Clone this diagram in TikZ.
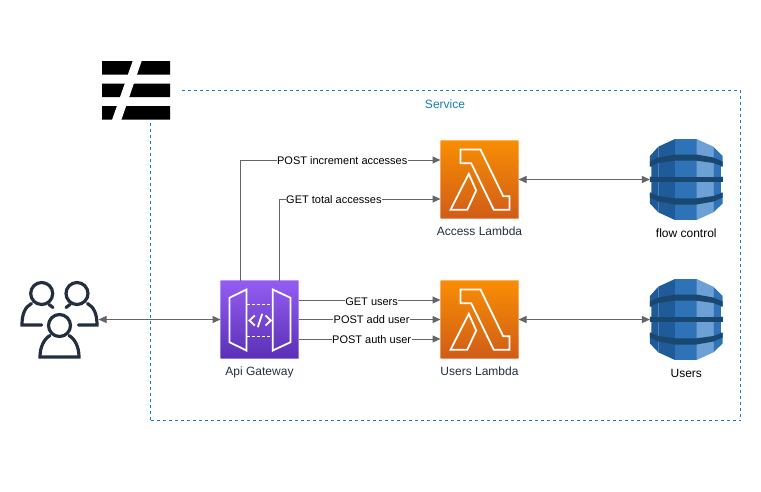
\documentclass[tikz,border=0pt]{standalone}
\usepackage{fontspec}
\setmainfont{Liberation Sans}
\usetikzlibrary{arrows.meta, positioning, calc}
\definecolor{svcblue} {RGB}{20,126,186}
\definecolor{inkdark} {RGB}{35,47,62}
\definecolor{linegray}{RGB}{100,100,105}
\definecolor{lamtop}  {RGB}{247,142,4}
\definecolor{lambot}  {RGB}{208,92,23}
\definecolor{gwtop}   {RGB}{148,93,242}
\definecolor{gwbot}   {RGB}{90,48,181}
\definecolor{dbdark}  {RGB}{26,71,111}
\definecolor{dbdeep}  {RGB}{32,91,153}
\definecolor{dbmid}   {RGB}{46,115,184}
\definecolor{dblight} {RGB}{109,160,212}
\tikzset{
  iconbox/.style={minimum width=78pt, minimum height=78pt, inner sep=0pt, outer sep=0pt,
    draw=white, draw opacity=0.35, line width=1pt},
  lambdabox/.style={iconbox, top color=lamtop, bottom color=lambot},
  gatewaybox/.style={iconbox, top color=gwtop, bottom color=gwbot},
  dbbox/.style={minimum width=72.7pt, minimum height=81pt, inner sep=0pt, outer sep=0pt},
  caption/.style={font=\fontsize{12}{14}\selectfont, text=inkdark, inner sep=0pt},
  flow/.style={draw=linegray, line width=1pt, -{Triangle[length=8pt,width=7pt]}},
  duplex/.style={flow, {Triangle[length=8pt,width=7pt]}-{Triangle[length=8pt,width=7pt]}},
  route/.style={font=\fontsize{11}{13}\selectfont, fill=white, inner xsep=0.5pt, inner ysep=0.5pt,
    text=black, yshift=-0.5pt},
  glyph/.style={draw=white, line width=1.8pt, line join=miter},
  person/.style={draw=inkdark, line width=3.2pt, line cap=round}
}
\newcommand{\lambdaglyph}[1]{
  \begin{scope}[shift={(#1.north west)}]
    \draw[glyph] (20,9) -- (40,9) -- (62.7,55.7) -- (69,55.7) -- (69,69.3) -- (53.3,69.3)
      -- (30.7,22.7) -- (20,22.7) -- cycle;
    \draw[glyph] (28.3,33.3) -- (35.7,50) -- (26.7,69.3) -- (10,69.3) -- cycle;
  \end{scope}
}
\newcommand{\dbglyph}[1]{
  \begin{scope}[shift={(#1.north west)}]
    \fill[dbmid] (25,0) -- (46.7,0) -- (46.7,81) -- (25,81) -- cycle;
    \fill[dbdeep] (8.3,7.7) -- (25,0) -- (25,81) -- (8.3,73.3) -- cycle;
    \fill[dbdeep] (0,17) -- (8.3,7.7) -- (8.3,73.3) -- (0,64.5) -- cycle;
    \fill[dblight] (46.7,0) -- (63.5,7.7) -- (63.5,73.3) -- (46.7,81) -- cycle;
    \fill[dbmid] (63.5,7.7) -- (72.7,17) -- (72.7,64.5) -- (63.5,73.3) -- cycle;
    \fill[white] (-0.5,27.5) rectangle (1.5,37.5) (-0.5,43) rectangle (1.5,53.5)
      (71.2,27.5) rectangle (73.2,37.5) (71.2,43) rectangle (73.2,53.5);
    \fill[dbdark] (0,22.5) -- (8.3,18.5) -- (25,15.5) -- (46.7,15.5) -- (63.5,18.5) -- (72.7,22.5)
      -- (72.7,27.5) -- (63.5,24) -- (46.7,21.7) -- (25,21.7) -- (8.3,24) -- (0,27.5) -- cycle;
    \fill[dbdark] (0,37.7) -- (72.7,37.7) -- (72.7,42.7) -- (0,42.7) -- cycle;
    \fill[dbdark] (0,53.5) -- (8.3,57) -- (25,59.3) -- (46.7,59.3) -- (63.5,57) -- (72.7,53.5)
      -- (72.7,58.5) -- (63.5,62.5) -- (46.7,65.5) -- (25,65.5) -- (8.3,62.5) -- (0,58.5) -- cycle;
  \end{scope}
}
\begin{document}
\begin{tikzpicture}[x=1pt, y=-1pt]
  \useasboundingbox (0,0) rectangle (761,491);

  \node[draw=svcblue, dashed, line width=0.7pt, minimum width=590pt, minimum height=330pt,
        inner sep=0pt] (service) at (445.5,255.5) {};
  \node[caption, text=svcblue] (servicename) at (445,104) {Service};

  \node[fill=white, minimum width=90pt, minimum height=70pt, inner sep=0pt] (logo) at (136,85) {};
  \fill[black] (102,61) rectangle (170,74.5) (102,83.5) rectangle (170,97) (102,106) rectangle (170,119.5);
  \fill[white] (133,60) -- (142,60) -- (121.3,120) -- (112,120) -- cycle;

  \node[minimum width=78pt, minimum height=78pt, inner sep=0pt, outer sep=0pt] (users) at (59.5,319.5) {};
  \draw[person] (41.7,325) -- (22,325) .. controls (22,314) and (25,307) .. (31.5,303.5);
  \draw[person] (49,304.5) -- (53,307.5);
  \draw[person] (78.5,325) -- (97,325) .. controls (97,314) and (94,307) .. (87.5,303.5);
  \draw[person] (70,304.5) -- (66,307.5);
  \draw[person] (41.7,293.5) circle (11pt) (77,293.5) circle (11pt) (59.5,325.5) circle (11pt);
  \draw[person] (50,335.5) .. controls (44,339) and (40,347) .. (40,357) -- (79,357)
    .. controls (79,347) and (75,339) .. (69,335.5);

  \node[gatewaybox] (gateway) at (259.5,319.5) {};
  \begin{scope}[shift={(gateway.north west)}]
    \draw[glyph] (26,9) -- (9,17.3) -- (9,61.7) -- (26,70) -- cycle;
    \draw[glyph] (52.3,9) -- (70,17.3) -- (70,61.7) -- (52.3,70) -- cycle;
    \draw[glyph, dash pattern=on 3pt off 2pt] (26,24) -- (52.3,24) (26,56) -- (52.3,56);
    \draw[glyph] (34.3,35) -- (29,40) -- (34.3,45) (45,35) -- (50.3,40) -- (45,45) (41.7,33.3) -- (37.3,46.7);
  \end{scope}
  \node[caption, below=8pt of gateway] (gatewayname) {Api Gateway};

  \node[lambdabox] (accesslambda) at (479.5,179.5) {};
  \lambdaglyph{accesslambda}
  \node[caption, below=8pt of accesslambda] (accessname) {Access Lambda};

  \node[lambdabox] (userslambda) at (479.5,319.5) {};
  \lambdaglyph{userslambda}
  \node[caption, below=8pt of userslambda] (usersname) {Users Lambda};

  \node[dbbox] (flowdb) at (686.3,179.5) {};
  \dbglyph{flowdb}
  \node[caption, text=black, below=9pt of flowdb] (flowname) {flow control};

  \node[dbbox] (usersdb) at (686.3,319.5) {};
  \dbglyph{usersdb}
  \node[caption, text=black, below=9pt of usersdb] (usersdbname) {Users};

  \draw[duplex] (users.east) -- (gateway.west);
  \draw[duplex] (accesslambda.east) -- (flowdb.west);
  \draw[duplex] (userslambda.east) -- (usersdb.west);

  \draw[flow] ($(gateway.north west)!0.25!(gateway.north east)$) |-
    node[route, pos=0.755] (postinc) {POST increment accesses}
    ($(accesslambda.north west)!0.25!(accesslambda.south west)$);
  \draw[flow] ($(gateway.north west)!0.75!(gateway.north east)$) |-
    node[route, pos=0.67] (gettotal) {GET total accesses}
    ($(accesslambda.north west)!0.75!(accesslambda.south west)$);
  \draw[flow] ($(gateway.north east)!0.25!(gateway.south east)$) --
    node[route, pos=0.515, yshift=-1pt] (getusers) {GET users}
    ($(userslambda.north west)!0.25!(userslambda.south west)$);
  \draw[flow] (gateway.east) --
    node[route, pos=0.515] (postadd) {POST add user}
    (userslambda.west);
  \draw[flow] ($(gateway.north east)!0.75!(gateway.south east)$) --
    node[route, pos=0.515] (postauth) {POST auth user}
    ($(userslambda.north west)!0.75!(userslambda.south west)$);
\end{tikzpicture}
\end{document}
